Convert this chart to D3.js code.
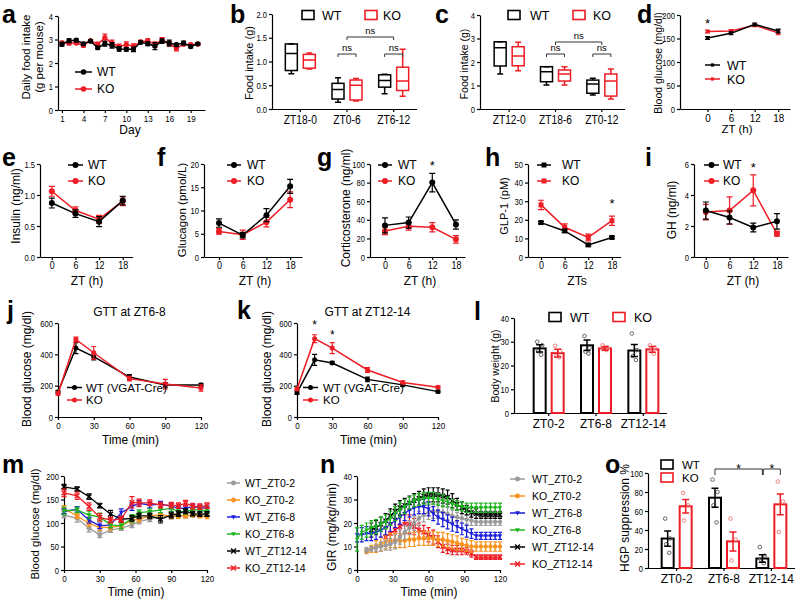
<!DOCTYPE html>
<html><head><meta charset="utf-8">
<script src="https://cdn.jsdelivr.net/npm/d3@7"></script>
<style>body{margin:0;background:#fff}svg{display:block}</style>
</head><body><svg id="c" width="800" height="604"></svg>
<script>
// ================= DATA =================
// a: daily food intake
const daysA = [1,2,3,4,5,6,7,8,9,10,11,12,13,14,15,16,17,18,19,20];
const dayTicks = [1,4,7,10,13,16,19];
const intakeWT = [2.80,2.95,2.97,2.82,2.93,2.65,2.82,2.75,2.60,2.58,2.58,2.88,2.82,2.72,2.93,2.85,2.78,2.85,2.70,2.82];
const intakeWTErr = [0.08,0.08,0.06,0.06,0.05,0.06,0.10,0.12,0.10,0.08,0.10,0.06,0.08,0.15,0.10,0.12,0.06,0.08,0.06,0.05];
const intakeKO = [2.85,2.85,2.85,2.75,2.95,2.80,3.08,2.85,2.70,2.78,2.72,2.90,2.95,2.78,2.98,2.82,2.62,2.80,2.78,2.80];
const intakeKOErr = [0.08,0.08,0.06,0.06,0.05,0.08,0.15,0.12,0.10,0.12,0.10,0.06,0.08,0.12,0.10,0.10,0.10,0.06,0.06,0.05];

// b, c: box plots [min, q1, median, q3, max]
const catsB = ['ZT18-0','ZT0-6','ZT6-12'];
const boxB_WT = [[0.74,0.81,1.17,1.37,1.37],[0.14,0.21,0.41,0.54,0.66],[0.32,0.46,0.60,0.72,0.73]];
const boxB_KO = [[0.84,0.86,1.03,1.15,1.18],[0.17,0.19,0.50,0.61,0.64],[0.27,0.39,0.59,0.88,1.26]];
const catsC = ['ZT12-0','ZT18-6','ZT0-12'];
const boxC_WT = [[1.49,1.83,2.61,2.86,2.86],[1.02,1.16,1.59,1.80,1.80],[0.60,0.67,1.06,1.23,1.31]];
const boxC_KO = [[1.63,1.84,2.26,2.65,2.84],[1.02,1.19,1.49,1.66,1.80],[0.43,0.55,1.19,1.49,1.70]];

// d-i: ZT time courses
const zt = [0,6,12,18];
const gluWT = [151,161,180,166], gluWTErr = [3,3,3,4];
const gluKO = [165,166,178,162], gluKOErr = [3,3,3,4];
const insWT = [0.87,0.70,0.57,0.91], insWTErr = [0.08,0.06,0.08,0.07];
const insKO = [1.06,0.75,0.61,0.90], insKOErr = [0.08,0.06,0.06,0.07];
const gcgWT = [7.3,4.7,9.0,15.2], gcgWTErr = [0.9,0.6,1.4,1.5];
const gcgKO = [5.5,4.8,7.5,12.3], gcgKOErr = [0.6,1.0,1.0,1.7];
const corWT = [34,37,80,35], corWTErr = [8,6,10,5];
const corKO = [28,33,32,19], corKOErr = [4,4,5,4];
const glpWT = [18.5,14,6.5,10.5], glpWTErr = [0.7,0.8,0.5,0.6];
const glpKO = [28,16,10.5,19.5], glpKOErr = [2.5,1.8,1.8,2.5];
const ghWT = [3.0,2.55,1.9,2.3], ghWTErr = [0.55,0.42,0.28,0.5];
const ghKO = [2.9,3.0,4.3,1.5], ghKOErr = [0.5,0.88,1.0,0.15];

// j, k: GTT
const tGTT = [0,15,30,60,90,120];
const gttJ_WT = [160,440,385,255,205,205], gttJ_WTErr = [10,35,20,15,15,10];
const gttJ_KO = [150,495,410,245,210,185], gttJ_KOErr = [10,15,40,15,30,20];
const gttK_WT = [155,365,345,240,205,162], gttK_WTErr = [10,35,10,15,10,8];
const gttK_KO = [178,500,440,300,220,190], gttK_KOErr = [8,25,35,15,10,8];

// l: body weight
const catsL = ['ZT0-2','ZT6-8','ZT12-14'];
const bwWT = [27.2,28.5,26.3], bwWTErr = [1.5,2.2,2.5];
const bwKO = [25.2,27.2,26.8], bwKOErr = [1.6,0.8,1.2];
const bwWTDots = [[30,28.5,26,24.5],[32.4,27.4,25.8,25],[33.5,26.5,24,22.3]];
const bwKODots = [[28.3,26.2,24,23.5],[28.5,27.5,27,26.5],[28.5,27.5,26,25]];

// m: clamp blood glucose
const tClamp = [0,11,21,30,39,48,57,63,72,81,90,96,102,108,114,120];
const bgWT02 = [117,110,89,75,85,89,96,103,108,115,113,115,115,117,117,120];
const bgKO02 = [131,115,99,90,91,94,106,108,115,117,115,115,115,117,115,113];
const bgWT68 = [125,129,106,94,96,122,135,142,138,140,136,131,131,135,133,131];
const bgKO68 = [126,128,117,113,96,94,110,122,124,128,131,124,124,128,128,125];
const bgWT1214 = [177,172,156,137,119,108,110,115,115,108,117,120,125,120,119,119];
const bgKO1214 = [164,158,135,112,106,108,144,143,143,138,138,137,142,136,135,137];
const bgWT02Err = [6,8,8,6,5,5,6,5,5,5,5,4,4,4,4,4];
const bgKO02Err = [6,6,6,6,6,6,6,6,5,5,5,5,4,4,4,4];
const bgWT68Err = [5,6,6,6,6,8,8,6,6,6,6,5,5,5,5,5];
const bgKO68Err = [8,6,8,8,6,6,8,6,6,6,6,6,5,5,5,5];
const bgWT1214Err = [5,5,6,5,8,6,6,6,6,8,6,6,5,5,5,5];
const bgKO1214Err = [8,8,8,8,6,6,12,8,6,6,6,6,6,6,6,6];

// n: GIR
const tGIR = [0,4,8,12,16,20,24,28,32,36,40,44,48,52,56,60,64,68,72,76,80,84,88,92,96,100,104,108,112,116,120];
const girWT02 = [null,null,8.5,9,9.5,10,10.5,11,12,14,16,18,20,22,23.5,24.5,25,25,24.5,24,23,22.5,22,21.5,21,20.5,20.5,20.5,20.5,20.5,20.5];
const girWT02Err = [0,0,1,1,1.5,2,2,2.5,3,3,3,3,3,3,3,3,3,3,3,2.5,2.5,2,2,2,2,1.5,1.5,1.5,1.5,1.5,1.5];
const girKO02 = [null,null,8,9,10,11,12,12.5,12.5,12.5,12.5,13,13,13.5,13.5,13.5,13.5,13,13,12.5,12,11.5,11,10.5,10,10,10,10,10,10,10];
const girKO02Err = [0,0,1,1.5,2.5,3,3,3,3,3,3,3,3,3,3,3,3,3,3,3,3,3,2.5,2.5,2.5,2,2,2,2,2,2];
const girWT68 = [15,15,15.5,15.5,16,17,18,19.5,21,22.5,24,25.5,26.5,27,27,26,24,22.5,21.5,20.5,19.5,18.5,17.5,16.5,15.5,14.5,14.5,14.5,14.5,14.5,14.5];
const girWT68Err = [3,3,3,3,3,3,3,3,3,3,3,3,3,3,3,3,3,3,3,3,3,2.5,2.5,2.5,2,1.5,1.5,1.5,1.5,1.5,1.5];
const girKO68 = [13,16,17,18,18.5,19.5,20.5,22,24,25.5,27,28.5,29.5,30,30.5,30.5,30.5,30,29.5,29,28,27.5,27,26.5,26.5,26.5,26.5,26.5,26.5,26.5,26.5];
const girKO68Err = [5,3,3,3,3,3,3,3,3,3,3,2.5,2.5,2.5,2.5,2.5,2.5,2.5,2.5,2,2,2,2,2,2,2,2,2,2,2,2];
const girWT1214 = [null,null,null,17,18,19.5,21,23,25,26.5,27.5,28.5,29.5,30.5,31.5,32,32,32,31.5,31,29.5,28,26.5,25.5,24.5,24,23.5,23.5,23.5,23.5,23.5];
const girWT1214Err = [0,0,0,3,3,3,3,3,3,3,3,3,3,3,3,3,3,3,3,3,3,2.5,2.5,2,2,2,1.5,1.5,1.5,1.5,1.5];
const girKO1214 = [null,null,null,null,null,null,14,15.5,17,18.5,19.5,19.5,18.5,17,16,15,14,12,10,9,8.5,8.5,8.5,8,7,5.5,5.5,5.5,5.5,5.5,5.5];
const girKO1214Err = [0,0,0,0,0,0,4,4,4,4,4,4,3.5,3,3,3,3,2.5,2.5,2,2,2,2,1.5,1.5,1,1,1,1,1,1];

// o: HGP suppression
const catsO = ['ZT0-2','ZT6-8','ZT12-14'];
const hgpWT = [31,74,10], hgpWTErr = [8,10,4];
const hgpKO = [65,28,67], hgpKOErr = [7,10,11];
const hgpWTDots = [[52,31,25,16],[93,80,66,48],[22,13,9,5]];
const hgpKODots = [[79,66,50],[52,30,8],[91,70,38]];

const clampLabels = ['WT_ZT0-2','KO_ZT0-2','WT_ZT6-8','KO_ZT6-8','WT_ZT12-14','KO_ZT12-14'];

// ================= DRAWING =================
const F = '"Liberation Sans", Arial, Helvetica, sans-serif';
const RED = '#ee1c24', BLK = '#000', GRAY = '#9a9a9a', ORANGE = '#f7931e', BLUE = '#1c1cdc', GREEN = '#1fb51f';
const svg = d3.select('#c');

function T(x, y, s, size, o = {}) {
  const t = svg.append('text').attr('x', x).attr('y', y).text(s)
    .attr('font-size', size).attr('font-family', F)
    .attr('text-anchor', o.anchor || 'start').attr('fill', o.fill || '#000');
  if (o.bold) t.attr('font-weight', 'bold');
  if (o.rot) t.attr('transform', `rotate(-90 ${x} ${y})`);
  return t;
}
function styleAxis(g, fs, sx) {
  g.attr('font-family', F).attr('font-size', fs);
  g.select('.domain').attr('stroke', '#000').attr('stroke-width', 1.2);
  g.selectAll('.tick line').attr('stroke', '#000').attr('stroke-width', 1.2);
  g.selectAll('.tick text').attr('fill', '#000');
  if (sx !== 1) {
    g.selectAll('.tick text').each(function () {
      const t = d3.select(this);
      const x0 = +t.attr('x') || 0;
      t.attr('x', x0 / sx).attr('transform', `scale(${sx},1)`);
    });
  }
}
function yAxis(xpos, y, ticks, fmt, fs = 9.5) {
  const g = svg.append('g').attr('transform', `translate(${xpos},0)`)
    .call(d3.axisLeft(y).tickValues(ticks).tickFormat(fmt || d3.format('d')).tickSize(3).tickSizeOuter(0).tickPadding(2));
  styleAxis(g, fs, 0.8);
}
function xAxis(ypos, x, ticks, fs = 10, sx = 0.85) {
  const g = svg.append('g').attr('transform', `translate(0,${ypos})`)
    .call(d3.axisBottom(x).tickValues(ticks).tickFormat(d3.format('d')).tickSize(3).tickSizeOuter(0).tickPadding(2));
  styleAxis(g, fs, sx);
}
function bandAxis(ypos, band, xStart, fs, sx) {
  const g = svg.append('g').attr('transform', `translate(0,${ypos})`)
    .call(d3.axisBottom(band).tickSize(3).tickSizeOuter(0).tickPadding(3));
  styleAxis(g, fs, sx);
  g.select('.domain').attr('d', `M${xStart},0.5H${band.range()[1]}`);
}
function marker(g, type, cx, cy, s, color) {
  if (type === 'circle') g.append('circle').attr('cx', cx).attr('cy', cy).attr('r', s).attr('fill', color);
  else if (type === 'square') g.append('rect').attr('x', cx - s).attr('y', cy - s).attr('width', 2 * s).attr('height', 2 * s).attr('fill', color);
  else if (type === 'tri') g.append('path').attr('d', `M${cx - s},${cy - s * 0.75}L${cx + s},${cy - s * 0.75}L${cx},${cy + s}Z`).attr('fill', color);
  else if (type === 'x') g.append('path').attr('d', `M${cx - s},${cy - s}L${cx + s},${cy + s}M${cx - s},${cy + s}L${cx + s},${cy - s}`)
    .attr('stroke', color).attr('stroke-width', 1.4).attr('fill', 'none');
}
function series(x, y, xs, vs, es, color, mk, ms, lw = 1.5, cap = 6) {
  const pts = xs.map((t, i) => ({ t, v: vs[i], e: es ? es[i] : 0 })).filter(d => d.v != null);
  const g = svg.append('g');
  pts.forEach(d => {
    if (d.e) {
      const a = y(d.v - d.e), b = y(d.v + d.e), cx = x(d.t);
      g.append('path').attr('d', `M${cx},${a}V${b}M${cx - cap / 2},${a}H${cx + cap / 2}M${cx - cap / 2},${b}H${cx + cap / 2}`)
        .attr('stroke', color).attr('stroke-width', 1.2).attr('fill', 'none');
    }
  });
  g.append('path').datum(pts).attr('d', d3.line().x(d => x(d.t)).y(d => y(d.v)))
    .attr('fill', 'none').attr('stroke', color).attr('stroke-width', lw);
  pts.forEach(d => marker(g, mk, x(d.t), y(d.v), ms, color));
}
function legLine(x1, x2, yy, label, color, mk, ms, fs, tx) {
  svg.append('line').attr('x1', x1).attr('x2', x2).attr('y1', yy).attr('y2', yy).attr('stroke', color).attr('stroke-width', 1.5);
  marker(svg, mk, (x1 + x2) / 2, yy, ms, color);
  T(tx, yy + fs * 0.36, label, fs);
}
function legBox(x, yy, label, color, fs, tx) {
  svg.append('rect').attr('x', x).attr('y', yy - 4.5).attr('width', 12).attr('height', 9)
    .attr('fill', 'none').attr('stroke', color).attr('stroke-width', 1.6);
  T(tx, yy + fs * 0.36, label, fs);
}
function boxPlot(x, y, cats, stats, off, color) {
  const w = 12, c = 6;
  cats.forEach((k, i) => {
    const cx = x(k) + x.bandwidth() / 2 + off;
    const [mn, q1, md, q3, mx] = stats[i];
    const p = `M${cx},${y(q3)}V${y(mx)}M${cx - c / 2},${y(mx)}H${cx + c / 2}` +
      `M${cx},${y(q1)}V${y(mn)}M${cx - c / 2},${y(mn)}H${cx + c / 2}` +
      `M${cx - w / 2},${y(md)}H${cx + w / 2}`;
    svg.append('rect').attr('x', cx - w / 2).attr('y', y(q3)).attr('width', w).attr('height', y(q1) - y(q3))
      .attr('fill', 'none').attr('stroke', color).attr('stroke-width', 1.5);
    svg.append('path').attr('d', p).attr('fill', 'none').attr('stroke', color).attr('stroke-width', 1.5);
  });
}
const jitter = [-2.5, 2.5, -1.5, 1.5];
function bars(x, y, cats, vals, errs, dots, off, color, dotColor) {
  const w = 12, c = 7;
  cats.forEach((k, i) => {
    const cx = x(k) + x.bandwidth() / 2 + off;
    svg.append('rect').attr('x', cx - w / 2).attr('y', y(vals[i])).attr('width', w).attr('height', y(0) - y(vals[i]))
      .attr('fill', '#fff').attr('stroke', color).attr('stroke-width', 2);
    dots[i].forEach((d, j) => svg.append('circle').attr('cx', cx + jitter[j % 4]).attr('cy', y(d)).attr('r', 1.8)
      .attr('fill', 'none').attr('stroke', dotColor).attr('stroke-width', 1));
    const a = y(vals[i] - errs[i]), b = y(vals[i] + errs[i]);
    svg.append('path').attr('d', `M${cx},${a}V${b}M${cx - c / 2},${a}H${cx + c / 2}M${cx - c / 2},${b}H${cx + c / 2}`)
      .attr('stroke', color).attr('stroke-width', 1.5).attr('fill', 'none');
  });
}
function bracket(x1, x2, yy, drop, label, fs, ly) {
  svg.append('path').attr('d', `M${x1},${yy + drop}V${yy}H${x2}V${yy + drop}`)
    .attr('fill', 'none').attr('stroke', '#333').attr('stroke-width', 1);
  T((x1 + x2) / 2, ly, label, fs, { anchor: 'middle' });
}
const f1 = d3.format('.1f');

// ---------- a ----------
{
  const x = d3.scaleLinear().domain([0.45, 21]).range([58, 205]);
  const y = d3.scaleLinear().domain([0, 4]).range([110, 16]);
  yAxis(58, y, [0, 1, 2, 3, 4]);
  xAxis(110, x, dayTicks, 9.5);
  series(x, y, daysA, intakeKO, intakeKOErr, RED, 'circle', 2.6, 1.5, 5);
  series(x, y, daysA, intakeWT, intakeWTErr, BLK, 'circle', 2.6, 1.5, 5);
  legLine(75, 92, 72, 'WT', BLK, 'circle', 2.8, 12, 97);
  legLine(75, 92, 89, 'KO', RED, 'circle', 2.8, 12, 97);
  T(30, 57, 'Daily food intake', 11.5, { anchor: 'middle', rot: true });
  T(43, 57, '(g per mouse)', 11.5, { anchor: 'middle', rot: true });
  T(130, 134, 'Day', 12, { anchor: 'middle' });
  T(2, 23, 'a', 25, { bold: true });
}
// ---------- b ----------
{
  const x = d3.scaleBand().domain(catsB).range([277, 417]);
  const y = d3.scaleLinear().domain([0, 2]).range([109, 14]);
  yAxis(272, y, [0, 0.5, 1, 1.5, 2], f1);
  bandAxis(109, x, 272, 12.5, 0.82);
  boxPlot(x, y, catsB, boxB_WT, -9, BLK);
  boxPlot(x, y, catsB, boxB_KO, 9, RED);
  const c = k => x(k) + x.bandwidth() / 2;
  bracket(c('ZT0-6') - 9, c('ZT0-6') + 9, 54, 3, 'ns', 9.5, 51);
  bracket(c('ZT6-12') - 9, c('ZT6-12') + 9, 54, 3, 'ns', 9.5, 51);
  bracket(c('ZT0-6'), c('ZT6-12'), 37, 3, 'ns', 9.5, 34);
  legBox(302, 15, 'WT', BLK, 12.5, 322);
  legBox(365, 15, 'KO', RED, 12.5, 383);
  T(253, 63, 'Food intake (g)', 11, { anchor: 'middle', rot: true });
  T(230, 23, 'b', 25, { bold: true });
}
// ---------- c ----------
{
  const x = d3.scaleBand().domain(catsC).range([486, 625]);
  const y = d3.scaleLinear().domain([0, 4]).range([109, 15]);
  yAxis(480, y, [0, 1, 2, 3, 4]);
  bandAxis(109, x, 480, 12.5, 0.82);
  boxPlot(x, y, catsC, boxC_WT, -9, BLK);
  boxPlot(x, y, catsC, boxC_KO, 9, RED);
  const c = k => x(k) + x.bandwidth() / 2;
  bracket(c('ZT18-6') - 9, c('ZT18-6') + 9, 54, 3, 'ns', 9.5, 51);
  bracket(c('ZT0-12') - 9, c('ZT0-12') + 9, 54, 3, 'ns', 9.5, 51);
  bracket(c('ZT18-6'), c('ZT0-12'), 42, 3, 'ns', 9.5, 39);
  legBox(508, 15, 'WT', BLK, 12.5, 530);
  legBox(573, 15, 'KO', RED, 12.5, 593);
  T(468, 64, 'Food intake (g)', 10.5, { anchor: 'middle', rot: true });
  T(435, 23, 'c', 25, { bold: true });
}
// ---------- d ----------
{
  const x = d3.scaleLinear().domain([-7, 21]).range([680, 790]);
  const y = d3.scaleLinear().domain([0, 200]).range([109, 15]);
  yAxis(680, y, [0, 50, 100, 150, 200]);
  xAxis(109, x, zt, 11, 0.9);
  series(x, y, zt, gluKO, gluKOErr, RED, 'square', 1.6, 1.5, 5);
  series(x, y, zt, gluWT, gluWTErr, BLK, 'square', 1.6, 1.5, 5);
  T(x(0), 28, '*', 13, { anchor: 'middle' });
  legLine(705, 720, 65, 'WT', BLK, 'square', 1.6, 12.5, 727);
  legLine(705, 720, 79, 'KO', RED, 'square', 1.6, 12.5, 727);
  T(662, 63, 'Blood glucose (mg/dl)', 10.5, { anchor: 'middle', rot: true });
  T(737, 133, 'ZT (h)', 11.5, { anchor: 'middle' });
  T(637, 23, 'd', 25, { bold: true });
}
// ---------- e-i ----------
function ztPanel(o) {
  const x = d3.scaleLinear().domain(o.xd).range(o.xr);
  const y = d3.scaleLinear().domain(o.yd).range([257, 164]);
  yAxis(o.xr[0], y, o.yt, o.fmt);
  xAxis(257, x, zt, 10.5);
  series(x, y, zt, o.ko, o.koE, RED, o.mk, o.ms, 1.5, 6);
  series(x, y, zt, o.wt, o.wtE, BLK, o.mk, o.ms, 1.5, 6);
  legLine(o.lx[0], o.lx[1], 165, 'WT', BLK, o.mk, o.ms, 12, o.lx[2]);
  legLine(o.lx[0], o.lx[1], 181, 'KO', RED, o.mk, o.ms, 12, o.lx[2]);
  T(o.tx, o.ty, o.title, o.tfs, { anchor: 'middle', rot: true });
  T(o.xt[0], 285, o.xt[1], 12, { anchor: 'middle' });
  T(o.letter[0], 166, o.letter[1], 25, { bold: true });
  return { x, y };
}
ztPanel({ xd: [-3, 20.5], xr: [40, 132.6], yd: [0, 1.5], yt: [0, 0.5, 1, 1.5], fmt: f1, wt: insWT, wtE: insWTErr, ko: insKO, koE: insKOErr,
  mk: 'circle', ms: 3, lx: [68, 83, 88], tx: 20, ty: 206, tfs: 12, title: 'Insulin (ng/ml)', xt: [87, 'ZT (h)'], letter: [2, 'e'] });
ztPanel({ xd: [-3.8, 21], xr: [204, 302], yd: [0, 20], yt: [0, 5, 10, 15, 20], wt: gcgWT, wtE: gcgWTErr, ko: gcgKO, koE: gcgKOErr,
  mk: 'circle', ms: 3, lx: [227, 241, 247], tx: 186, ty: 210, tfs: 11.5, title: 'Glucagon (pmol/L)', xt: [255, 'ZT (h)'], letter: [157, 'f'] });
{
  const p = ztPanel({ xd: [-3.8, 20.3], xr: [370, 465], yd: [0, 100], yt: [0, 20, 40, 60, 80, 100], wt: corWT, wtE: corWTErr, ko: corKO, koE: corKOErr,
    mk: 'circle', ms: 3, lx: [378, 392, 398], tx: 350, ty: 208, tfs: 12, title: 'Corticosterone (ng/ml)', xt: [420, 'ZT (h)'], letter: [317, 'g'] });
  T(p.x(12), 170, '*', 13, { anchor: 'middle' });
}
{
  const p = ztPanel({ xd: [-3.3, 20.2], xr: [528, 620.6], yd: [0, 50], yt: [0, 10, 20, 30, 40, 50], wt: glpWT, wtE: glpWTErr, ko: glpKO, koE: glpKOErr,
    mk: 'square', ms: 2.5, lx: [537, 551, 562], tx: 508, ty: 206, tfs: 11, title: 'GLP-1 (pM)', xt: [577, 'ZTs'], letter: [485, 'h'] });
  T(p.x(18), 208, '*', 13, { anchor: 'middle' });
}
{
  const p = ztPanel({ xd: [-3, 20.8], xr: [694, 788], yd: [0, 6], yt: [0, 2, 4, 6], wt: ghWT, wtE: ghWTErr, ko: ghKO, koE: ghKOErr,
    mk: 'circle', ms: 3, lx: [704, 719, 723], tx: 676, ty: 210, tfs: 12, title: 'GH (ng/ml)', xt: [743, 'ZT (h)'], letter: [645, 'i'] });
  T(p.x(12), 172, '*', 13, { anchor: 'middle' });
}
// ---------- j, k ----------
function gttPanel(o) {
  const x = d3.scaleLinear().domain([0, 120]).range(o.xr);
  const y = d3.scaleLinear().domain([0, 600]).range([417, 323]);
  yAxis(o.xr[0], y, [0, 200, 400, 600]);
  xAxis(417, x, [0, 30, 60, 90, 120], 9.5);
  series(x, y, tGTT, o.wt, o.wtE, BLK, 'circle', 2.5, 1.5, 5);
  series(x, y, tGTT, o.ko, o.koE, RED, 'circle', 2.5, 1.5, 5);
  legLine(o.lx[0], o.lx[1], 387.5, 'WT (VGAT-Cre)', BLK, 'circle', 2.5, 11.5, o.lx[2]);
  legLine(o.lx[0], o.lx[1], 400, 'KO', RED, 'circle', 2.5, 11.5, o.lx[2]);
  T(o.tx, 369, 'Blood glucose (mg/dl)', 12, { anchor: 'middle', rot: true });
  T((o.xr[0] + o.xr[1]) / 2 + 1, 444, 'Time (min)', 12, { anchor: 'middle' });
  T((o.xr[0] + o.xr[1]) / 2, 316, o.title, 12, { anchor: 'middle' });
  T(o.letter[0], 319, o.letter[1], 25, { bold: true });
  return { x, y };
}
gttPanel({ xr: [58, 201], wt: gttJ_WT, wtE: gttJ_WTErr, ko: gttJ_KO, koE: gttJ_KOErr, lx: [67, 82, 86], tx: 31, title: 'GTT at ZT6-8', letter: [7, 'j'] });
{
  const p = gttPanel({ xr: [297, 438], wt: gttK_WT, wtE: gttK_WTErr, ko: gttK_KO, koE: gttK_KOErr, lx: [303, 318, 323], tx: 271, title: 'GTT at ZT12-14', letter: [237, 'k'] });
  T(p.x(15), 329, '*', 12, { anchor: 'middle' });
  T(p.x(30), 339, '*', 12, { anchor: 'middle' });
}
// ---------- l ----------
{
  const x = d3.scaleBand().domain(catsL).range([525, 667]);
  const y = d3.scaleLinear().domain([0, 40]).range([413, 318]);
  yAxis(514, y, [0, 10, 20, 30, 40]);
  bandAxis(413, x, 514, 13, 0.92);
  bars(x, y, catsL, bwWT, bwWTErr, bwWTDots, -9, BLK, '#666');
  bars(x, y, catsL, bwKO, bwKOErr, bwKODots, 9, RED, '#f08080');
  legBox(549, 317, 'WT', BLK, 12.5, 570);
  legBox(613, 317, 'KO', RED, 12.5, 634);
  T(499, 366, 'Body weight (g)', 10.5, { anchor: 'middle', rot: true });
  T(474, 320, 'l', 25, { bold: true });
}
// ---------- m ----------
const clampStyles = [[GRAY, 'circle'], [ORANGE, 'circle'], [BLUE, 'tri'], [GREEN, 'tri'], [BLK, 'x'], [RED, 'x']];
{
  const x = d3.scaleLinear().domain([0, 120]).range([64, 207]);
  const y = d3.scaleLinear().domain([0, 200]).range([570, 476]);
  yAxis(64, y, [0, 50, 100, 150, 200]);
  xAxis(570, x, [0, 30, 60, 90, 120], 9.5);
  const sets = [[bgWT02, bgWT02Err], [bgKO02, bgKO02Err], [bgWT68, bgWT68Err], [bgKO68, bgKO68Err], [bgWT1214, bgWT1214Err], [bgKO1214, bgKO1214Err]];
  sets.forEach((s, i) => series(x, y, tClamp, s[0], s[1], clampStyles[i][0], clampStyles[i][1], 2.4, 1.3, 5));
  clampLabels.forEach((lab, i) => legLine(227, 240, 483 + 17 * i, lab, clampStyles[i][0], clampStyles[i][1], 2.4, 10.5, 245));
  T(39, 524, 'Blood glucose (mg/dl)', 11.5, { anchor: 'middle', rot: true });
  T(136, 596, 'Time (min)', 12, { anchor: 'middle' });
  T(2, 473, 'm', 25, { bold: true });
}
// ---------- n ----------
{
  const x = d3.scaleLinear().domain([0, 120]).range([357, 500]);
  const y = d3.scaleLinear().domain([0, 40]).range([570, 476]);
  yAxis(357, y, [0, 10, 20, 30, 40]);
  xAxis(570, x, [0, 30, 60, 90, 120], 9.5);
  const sets = [[girWT02, girWT02Err], [girKO02, girKO02Err], [girWT68, girWT68Err], [girKO68, girKO68Err], [girWT1214, girWT1214Err], [girKO1214, girKO1214Err]];
  [5, 1, 0, 4, 2, 3].forEach(i => series(x, y, tGIR, sets[i][0], sets[i][1], clampStyles[i][0], clampStyles[i][1], 2.2, 1.2, 4));
  clampLabels.forEach((lab, i) => legLine(510, 525, 479 + 17 * i, lab, clampStyles[i][0], clampStyles[i][1], 2.4, 10.5, 532));
  T(336, 527, 'GIR (mg/kg/min)', 12, { anchor: 'middle', rot: true });
  T(429, 596, 'Time (min)', 12, { anchor: 'middle' });
  T(320, 473, 'n', 25, { bold: true });
}
// ---------- o ----------
{
  const x = d3.scaleBand().domain(catsO).range([653, 795]);
  const y = d3.scaleLinear().domain([0, 100]).range([568, 473]);
  yAxis(648, y, [0, 20, 40, 60, 80, 100]);
  bandAxis(568, x, 648, 13, 0.92);
  bars(x, y, catsO, hgpWT, hgpWTErr, hgpWTDots, -9, BLK, '#666');
  bars(x, y, catsO, hgpKO, hgpKOErr, hgpKODots, 9, RED, '#f08080');
  const c = k => x(k) + x.bandwidth() / 2;
  bracket(c('ZT6-8') - 9, c('ZT12-14') - 9, 469, 6, '*', 12, 473);
  bracket(c('ZT12-14') - 8, c('ZT12-14') + 9, 469, 6, '*', 12, 473);
  legBox(661, 464.5, 'WT', BLK, 11.5, 682);
  legBox(661, 477.5, 'KO', RED, 11.5, 682);
  T(629, 518, 'HGP suppression %', 12, { anchor: 'middle', rot: true });
  T(605, 473, 'o', 25, { bold: true });
}
</script></body></html>
